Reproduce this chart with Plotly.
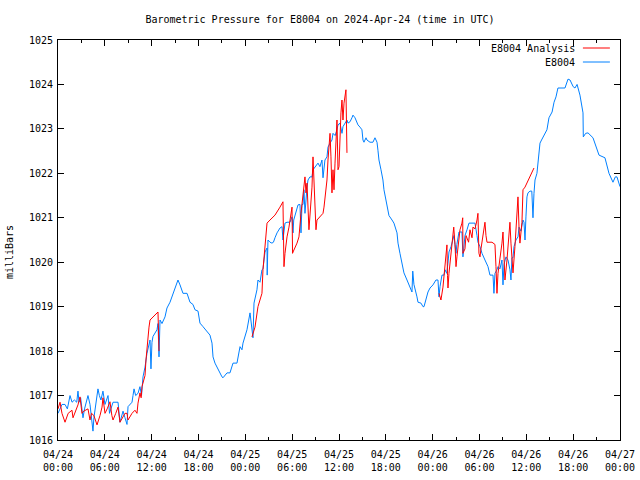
import pandas as pd
import plotly.graph_objects as go

BASE = pd.Timestamp("2024-04-24 00:00")

# E8004 observations: hours since 2024-04-24 00:00 UTC, pressure (mb)
obs_hours = [
    0.0, 0.51, 0.9, 1.2, 1.54, 1.8, 2.1, 2.4, 2.56, 2.7, 2.9, 3.2, 3.4, 3.6, 3.84, 4.1, 4.36, 4.48, 4.6, 4.8,
    5.12, 5.3, 5.5, 5.76, 6.02, 6.41, 6.6, 7.05, 7.69, 7.94, 8.33, 8.58, 8.84, 8.97, 9.48, 9.61, 9.74, 9.95,
    10.25, 10.5, 10.7, 10.89, 11.15, 11.4, 11.79, 11.91, 12.04, 12.17, 12.68, 12.81, 12.94, 13.07, 13.32,
    13.71, 13.96, 14.35, 14.73, 15.24, 15.37, 15.63, 16.01, 16.53, 16.91, 17.29, 17.55, 17.94, 18.19, 18.58,
    19.09, 19.47, 19.73, 19.86, 20.11, 20.5, 21.01, 21.14, 21.65, 22.03, 22.42, 22.93, 23.06, 23.32, 23.57,
    23.7, 24.21, 24.6, 24.98, 25.11, 25.49, 25.62, 25.88, 26.13, 26.26, 26.52, 26.78, 26.8, 26.9, 27.16,
    27.41, 27.6, 27.8, 28.06, 28.44, 28.7, 28.82, 29.08, 29.34, 29.72, 29.98, 30.11, 30.2, 30.36, 30.62,
    30.75, 31.0, 31.13, 31.26, 31.39, 31.51, 31.64, 31.9, 32.03, 32.28, 32.54, 32.67, 32.92, 33.31, 33.56,
    33.82, 33.95, 34.2, 34.46, 34.59, 34.85, 35.1, 35.23, 35.5, 35.74, 35.87, 36.13, 36.38, 36.51, 36.77,
    37.02, 37.15, 37.41, 37.66, 37.79, 38.05, 38.3, 38.43, 38.69, 38.94, 39.07, 39.2, 39.46, 39.58, 39.97,
    40.35, 40.61, 40.87, 40.99, 41.12, 41.38, 41.63, 41.76, 42.02, 42.15, 42.4, 42.79, 43.04, 43.43, 43.56,
    43.81, 44.07, 44.32, 44.71, 45.09, 45.35, 45.45, 45.6, 45.99, 46.12, 46.5, 46.76, 46.89, 47.27, 47.4,
    47.66, 48.04, 48.42, 48.68, 48.81, 48.94, 49.19, 49.45, 49.58, 49.8, 49.96, 50.09, 50.35, 50.6, 50.73,
    50.99, 51.1, 51.37, 51.75, 51.88, 52.14, 52.4, 52.65, 53.04, 53.42, 53.68, 53.8, 54.06, 54.32, 54.7,
    55.09, 55.34, 55.73, 55.85, 55.98, 56.24, 56.37, 56.62, 56.88, 57.01, 57.14, 57.39, 57.65, 57.9, 58.03,
    58.16, 58.29, 58.42, 58.67, 58.93, 59.06, 59.31, 59.57, 59.7, 59.83, 59.95, 60.08, 60.21, 60.47, 60.7,
    60.85, 60.98, 61.11, 61.36, 61.49, 61.75, 61.95, 62.3, 62.64, 62.9, 63.3, 63.55, 63.8, 64.05, 64.95,
    65.34, 65.6, 66.0, 66.23, 66.5, 66.87, 67.26, 67.3, 67.6, 67.9, 68.54, 68.9, 69.31, 70.07, 70.59, 71.1,
    71.4, 71.61, 72.0,
]
obs_mb = [
    1016.6, 1016.8, 1016.8, 1016.7, 1017.0, 1016.85, 1016.9, 1016.85, 1017.1, 1016.85, 1016.95, 1016.5,
    1016.7, 1016.85, 1017.0, 1016.8, 1016.45, 1016.2, 1016.5, 1016.8, 1017.15, 1017.0, 1016.9, 1017.1,
    1016.8, 1017.0, 1016.6, 1016.85, 1016.85, 1016.4, 1016.65, 1016.5, 1016.35, 1016.75, 1016.85, 1017.0,
    1017.15, 1017.0, 1017.05, 1017.2, 1017.0, 1017.42, 1017.64, 1017.95, 1018.25, 1017.6, 1018.2, 1018.33,
    1018.48, 1018.62, 1017.87, 1018.7, 1018.62, 1018.77, 1018.97, 1019.1, 1019.3, 1019.53, 1019.6, 1019.49,
    1019.3, 1019.3, 1019.1, 1019.05, 1018.93, 1018.9, 1018.63, 1018.55, 1018.43, 1018.36, 1018.18, 1017.87,
    1017.73, 1017.58, 1017.42, 1017.4, 1017.51, 1017.51, 1017.73, 1017.73, 1017.87, 1018.1, 1018.03,
    1018.18, 1018.48, 1018.86, 1018.3, 1019.08, 1019.38, 1019.6, 1019.55, 1019.83, 1019.85, 1020.23,
    1020.32, 1019.71, 1020.5, 1020.45, 1020.43, 1020.45, 1020.55, 1020.66, 1020.77, 1020.8, 1020.5,
    1020.88, 1020.9, 1020.9, 1021.02, 1020.66, 1020.95, 1021.05, 1021.22, 1021.29, 1021.3, 1020.66, 1021.3,
    1021.3, 1021.63, 1021.1, 1021.69, 1021.85, 1021.92, 1021.92, 1022.08, 1022.15, 1022.23, 1022.15, 1022.3,
    1021.9, 1022.3, 1022.37, 1022.59, 1022.68, 1022.75, 1022.9, 1022.85, 1022.98, 1023.09, 1023.13, 1022.9,
    1023.05, 1023.13, 1023.2, 1023.13, 1023.16, 1023.25, 1023.31, 1023.25, 1023.13, 1023.09, 1023.04,
    1022.98, 1022.75, 1022.7, 1022.8, 1022.75, 1022.7, 1022.7, 1022.8, 1022.7, 1022.52, 1022.3, 1022.08,
    1021.85, 1021.63, 1021.4, 1021.2, 1021.05, 1020.95, 1020.88, 1020.66, 1020.43, 1020.2, 1019.98, 1019.76,
    1019.6, 1019.44, 1019.33, 1019.8, 1019.5, 1019.22, 1019.1, 1019.08, 1019.0, 1019.0, 1019.22, 1019.33,
    1019.42, 1019.49, 1019.6, 1019.6, 1019.22, 1019.45, 1019.71, 1019.71, 1019.83, 1019.75, 1019.98,
    1020.23, 1020.35, 1020.55, 1020.6, 1020.2, 1020.4, 1020.68, 1020.68, 1020.12, 1020.6, 1020.73, 1020.88,
    1020.88, 1020.88, 1020.6, 1020.45, 1020.35, 1020.2, 1020.05, 1019.9, 1019.71, 1019.71, 1019.3, 1019.75,
    1019.83, 1019.9, 1019.85, 1020.05, 1019.49, 1019.95, 1020.12, 1020.05, 1019.83, 1019.6, 1020.1, 1020.1,
    1020.35, 1020.5, 1020.57, 1020.79, 1020.7, 1020.95, 1020.9, 1020.5, 1021.02, 1021.47, 1021.56, 1021.6,
    1021.6, 1021.0, 1021.55, 1021.85, 1022.0, 1022.3, 1022.68, 1022.75, 1022.86, 1022.98, 1023.25, 1023.38,
    1023.6, 1023.72, 1023.92, 1023.92, 1024.12, 1024.1, 1023.95, 1023.92, 1024.0, 1023.76, 1023.36, 1022.82,
    1022.9, 1022.91, 1022.8, 1022.6, 1022.41, 1022.35, 1022.0, 1021.8, 1021.92, 1021.92, 1021.7,
]

# E8004 Analysis: three runs (hours, mb)
ana1_hours = [
    0.0, 0.26, 0.51, 0.9, 1.3, 1.79, 1.92, 2.3, 2.56, 2.82, 3.07, 3.3, 3.84, 4.1, 4.3, 4.6, 5.0, 5.38,
    5.64, 5.76, 6.02, 6.3, 6.66, 6.9, 7.05, 7.4, 7.69, 7.94, 8.3, 8.58, 8.84, 8.97, 9.48, 9.86, 10.12,
    10.25, 10.5, 10.65, 10.76, 11.02, 11.15, 11.27, 11.4, 11.53, 11.66, 11.79, 12.17, 12.81, 12.94,
]
ana1_mb = [
    1016.7, 1016.85, 1016.6, 1016.4, 1016.6, 1016.67, 1016.5, 1016.65, 1016.79, 1016.97, 1016.6, 1016.65,
    1016.7, 1016.45, 1016.6, 1016.55, 1016.34, 1016.55, 1016.74, 1016.95, 1016.6, 1016.7, 1016.86, 1016.55,
    1016.45, 1016.6, 1016.74, 1016.4, 1016.5, 1016.6, 1016.6, 1016.45, 1016.6, 1016.67, 1016.6, 1016.83,
    1017.06, 1016.95, 1017.2, 1017.4, 1017.45, 1017.8, 1018.1, 1018.33, 1018.54, 1018.7, 1018.77, 1018.88,
    1018.0,
]
ana2_hours = [
    24.85, 25.24, 25.62, 26.13, 26.26, 26.52, 26.78, 27.16, 27.8, 28.44, 28.82, 28.95, 29.08, 29.34, 29.59,
    29.98, 30.05, 30.11, 30.62, 30.87, 31.13, 31.26, 31.39, 31.64, 31.77, 31.9, 32.15, 32.28, 32.54, 32.67,
    32.8, 33.05, 33.18, 33.56, 33.95, 34.08, 34.33, 34.46, 34.59, 34.72, 34.85, 34.97, 35.1, 35.23, 35.36,
    35.49, 35.61, 35.74, 35.87, 36.0, 36.25, 36.38, 36.51, 36.64, 36.89, 36.95, 37.02,
]
ana2_mb = [
    1018.32, 1018.54, 1019.0, 1019.3, 1019.83, 1020.43, 1020.88, 1020.95, 1021.06, 1021.24, 1021.36,
    1019.9, 1020.2, 1020.57, 1020.79, 1021.24, 1020.2, 1020.23, 1020.43, 1020.57, 1021.1, 1021.33, 1021.63,
    1021.92, 1021.56, 1021.78, 1020.73, 1021.1, 1021.69, 1022.37, 1021.92, 1020.73, 1020.95, 1021.02,
    1021.1, 1021.24, 1021.63, 1021.85, 1022.3, 1022.59, 1022.9, 1022.37, 1021.56, 1022.08, 1021.63,
    1022.23, 1022.98, 1023.2, 1022.08, 1022.15, 1023.36, 1023.65, 1023.2, 1023.58, 1023.88, 1022.9,
    1022.46,
]
ana3_hours = [
    48.81, 49.06, 49.32, 49.45, 49.58, 49.71, 49.83, 49.9, 49.96, 50.09, 50.35, 50.47, 50.6, 50.7, 50.86,
    50.99, 51.11, 51.37, 51.5, 51.75, 51.85, 51.88, 52.14, 52.27, 52.4, 52.6, 52.78, 53.04, 53.16, 53.42,
    53.68, 53.8, 53.93, 54.06, 54.19, 54.45, 54.7, 54.83, 54.96, 55.6, 55.98, 56.11, 56.2, 56.24, 56.37,
    56.62, 56.88, 57.01, 57.14, 57.26, 57.52, 57.65, 57.9, 58.03, 58.16, 58.29, 58.54, 58.8, 58.93, 59.06,
    59.18, 59.44, 59.57, 59.83, 60.08, 60.47, 60.85, 60.98,
]
ana3_mb = [
    1019.3, 1019.15, 1019.44, 1019.71, 1019.9, 1020.2, 1020.39, 1019.7, 1019.42, 1019.75, 1020.2, 1020.35,
    1020.57, 1020.79, 1020.4, 1019.9, 1020.12, 1020.57, 1020.73, 1020.88, 1021.0, 1020.2, 1020.3, 1020.6,
    1020.55, 1020.45, 1020.73, 1020.55, 1020.79, 1020.75, 1020.95, 1021.1, 1020.2, 1020.12, 1020.3,
    1020.57, 1020.9, 1020.6, 1020.45, 1020.45, 1020.4, 1019.9, 1019.6, 1019.3, 1019.75, 1020.05, 1020.43,
    1020.68, 1020.05, 1019.6, 1020.05, 1020.43, 1020.9, 1020.43, 1020.05, 1019.76, 1020.35, 1021.02,
    1021.47, 1020.79, 1020.43, 1020.9, 1021.63, 1021.69, 1021.78, 1021.92, 1022.08, 1022.12,
]

tick_hours = list(range(0, 73, 6))
tick_text = ["04/24<br>00:00", "04/24<br>06:00", "04/24<br>12:00", "04/24<br>18:00",
             "04/25<br>00:00", "04/25<br>06:00", "04/25<br>12:00", "04/25<br>18:00",
             "04/26<br>00:00", "04/26<br>06:00", "04/26<br>12:00", "04/26<br>18:00",
             "04/27<br>00:00"]


def to_time(hours):
    return [BASE + pd.Timedelta(hours=h) for h in hours]


ana_x = to_time(ana1_hours) + [None] + to_time(ana2_hours) + [None] + to_time(ana3_hours)
ana_y = ana1_mb + [None] + ana2_mb + [None] + ana3_mb

RED = "#ff0000"
BLUE = "#0080ff"
FONT = "DejaVu Sans Mono"

fig = go.Figure()
fig.add_trace(go.Scatter(x=to_time(obs_hours), y=obs_mb, mode="lines", name="E8004",
                         line=dict(color=BLUE, width=1)))
fig.add_trace(go.Scatter(x=ana_x, y=ana_y, mode="lines", name="E8004 Analysis",
                         line=dict(color=RED, width=1), connectgaps=False))

fig.update_layout(
    width=640, height=480,
    autosize=False,
    margin=dict(l=58, r=20, t=40, b=40, autoexpand=False),
    paper_bgcolor="white", plot_bgcolor="white",
    showlegend=False,
    font=dict(family=FONT, size=10, color="black"),
    title=dict(text="Barometric Pressure for E8004 on 2024-Apr-24 (time in UTC)",
               x=0.5, xanchor="center", y=1 - 19 / 480, yanchor="middle",
               font=dict(family=FONT, size=10, color="black")),
    xaxis=dict(
        range=[BASE, BASE + pd.Timedelta(hours=72)],
        automargin=False,
        tickmode="array",
        tickvals=to_time(tick_hours),
        ticktext=tick_text,
        ticks="inside", ticklen=6, tickcolor="black",
        showline=True, linecolor="black", linewidth=1, mirror="allticks",
        showgrid=False, zeroline=False,
        ticklabelstandoff=5,
        minor=dict(ticks="inside", ticklen=3, tickcolor="black",
                   tickvals=to_time(list(range(3, 72, 6))), showgrid=False),
        tickfont=dict(family=FONT, size=10),
    ),
    yaxis=dict(
        range=[1016, 1025],
        automargin=False,
        tickmode="linear", tick0=1016, dtick=1,
        ticks="inside", ticklen=6, tickcolor="black",
        showline=True, linecolor="black", linewidth=1, mirror="allticks",
        showgrid=False, zeroline=False,
        ticklabelstandoff=2,
        tickfont=dict(family=FONT, size=10),
    ),
)

# gnuplot-style legend (text then line sample) at top right
legend_items = [("E8004 Analysis", RED, 0.98), ("E8004", BLUE, 0.945)]
for label, color, ypos in legend_items:
    fig.add_annotation(xref="paper", yref="paper", x=0.923, y=ypos, text=label,
                       showarrow=False, xanchor="right", yanchor="middle",
                       font=dict(family=FONT, size=10, color="black"))
    fig.add_shape(type="line", xref="paper", yref="paper", x0=0.934, x1=0.982,
                  y0=ypos, y1=ypos, line=dict(color=color, width=1))

fig.add_annotation(xref="paper", yref="paper", x=-0.087, y=0.47, text="milliBars",
                   textangle=-90, showarrow=False, xanchor="center", yanchor="middle",
                   font=dict(family=FONT, size=10, color="black"))

fig.write_html("out.html", config={"displayModeBar": False},
               post_script="document.body.style.margin='0';")
